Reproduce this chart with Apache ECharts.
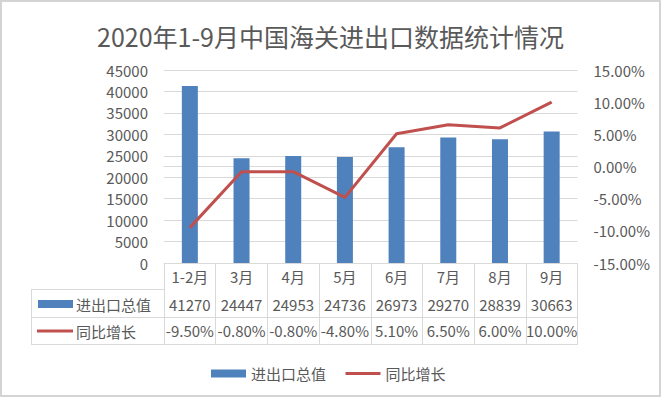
<!DOCTYPE html>
<html>
<head>
<meta charset="utf-8">
<script src="https://cdn.jsdelivr.net/npm/echarts@6/dist/echarts.min.js"></script>
<style>
    html, body { margin: 0; padding: 0; background: #fff; }
    #chart { width: 661px; height: 397px; }
</style>
</head>
<body>
<div id="chart"></div>
<script>
    // data
    var months = ['1-2月', '3月', '4月', '5月', '6月', '7月', '8月', '9月']
    var totals = [41270, 24447, 24953, 24736, 26973, 29270, 28839, 30663]
    var growth = [-9.5, -0.8, -0.8, -4.8, 5.1, 6.5, 6.0, 10.0]

    var barName = '进出口总值'
    var lineName = '同比增长'
    var barColor = '#4f81bd'
    var lineColor = '#c0504d'
    var textColor = '#595959'
    var borderColor = '#d9d9d9'
    var font = '"Noto Sans CJK SC", "Noto Sans", sans-serif'

    // plot box
    var plotLeft = 164
    var plotRight = 577.5
    var plotTop = 70
    var plotBottom = 263
    var rowLines = [289, 317, 344]
    var tableLeft = 31

    var pctText = growth.map(function (v) { return v.toFixed(2) + '%' })
    var totalText = totals.map(function (v) { return String(v) })

    function tableAxis (data, offset, margin) {
        return {
            type: 'category',
            gridIndex: 0,
            position: 'bottom',
            offset: offset,
            data: data,
            boundaryGap: true,
            axisLine: {show: true, lineStyle: {color: borderColor, width: 1}},
            axisTick: {show: false},
            axisLabel: {
                show: data.length > 0,
                interval: 0,
                margin: margin,
                color: textColor,
                fontSize: 15,
                fontFamily: font
            },
            splitLine: {show: false}
        }
    }

    var chart = echarts.init(document.getElementById('chart'), null, {renderer: 'svg'})

    var headerGraphics = [
        {
            type: 'rect',
            shape: {x: 1, y: 1, width: 659, height: 395},
            style: {fill: 'none', stroke: '#d4d4d4', lineWidth: 2},
            silent: true
        }
    ]
    rowLines.forEach(function (y) {
        headerGraphics.push({
            type: 'line',
            shape: {x1: tableLeft, y1: y + 0.5, x2: plotLeft, y2: y + 0.5},
            style: {stroke: borderColor, lineWidth: 1}
        })
    })
    headerGraphics.push({
        type: 'line',
        shape: {x1: tableLeft + 0.5, y1: rowLines[0], x2: tableLeft + 0.5, y2: rowLines[2]},
        style: {stroke: borderColor, lineWidth: 1}
    })
    headerGraphics.push({
        type: 'rect',
        shape: {x: 38, y: 300, width: 35, height: 8},
        style: {fill: barColor}
    })
    headerGraphics.push({
        type: 'text',
        style: {x: 76, y: 304, text: barName, fill: textColor, font: '15px ' + font, verticalAlign: 'middle'}
    })
    headerGraphics.push({
        type: 'line',
        shape: {x1: 37, y1: 331, x2: 73, y2: 331},
        style: {stroke: lineColor, lineWidth: 3}
    })
    headerGraphics.push({
        type: 'text',
        style: {x: 76, y: 331, text: lineName, fill: textColor, font: '15px ' + font, verticalAlign: 'middle'}
    })

    chart.setOption({
        animation: false,
        backgroundColor: '#fff',
        title: {
            text: '2020年1-9月中国海关进出口数据统计情况',
            left: 'center',
            top: 18,
            textStyle: {color: textColor, fontSize: 25, fontWeight: 'normal', fontFamily: font}
        },
        legend: {
            left: 206,
            top: 361,
            itemWidth: 35,
            itemHeight: 8,
            itemGap: 18,
            textStyle: {color: textColor, fontSize: 15, fontFamily: font},
            data: [
                {name: barName, icon: 'rect'},
                {name: lineName, itemStyle: {opacity: 0}, lineStyle: {width: 3, color: lineColor}}
            ]
        },
        grid: {
            left: plotLeft,
            right: 661 - plotRight,
            top: plotTop,
            bottom: 397 - plotBottom,
            containLabel: false
        },
        xAxis: [
            {
                type: 'category',
                data: months,
                boundaryGap: true,
                axisLine: {show: true, lineStyle: {color: borderColor, width: 1}},
                axisTick: {
                    show: true,
                    alignWithLabel: false,
                    interval: 0,
                    length: rowLines[2] - plotBottom,
                    lineStyle: {color: borderColor, width: 1}
                },
                axisLabel: {
                    interval: 0,
                    margin: 6,
                    color: textColor,
                    fontSize: 15,
                    fontFamily: font
                }
            },
            tableAxis(totalText, rowLines[0] - plotBottom, 8),
            tableAxis(pctText, rowLines[1] - plotBottom, 6),
            tableAxis([], rowLines[2] - plotBottom, 0)
        ],
        yAxis: [
            {
                type: 'value',
                min: 0,
                max: 45000,
                interval: 5000,
                axisLine: {show: false},
                axisTick: {show: false},
                axisLabel: {
                    margin: 16,
                    color: textColor,
                    fontSize: 15,
                    fontFamily: font,
                    formatter: function (v) { return String(v) }
                },
                splitLine: {lineStyle: {color: borderColor, width: 1}}
            },
            {
                type: 'value',
                min: -15,
                max: 15,
                interval: 5,
                axisLine: {show: false},
                axisTick: {show: false},
                axisLabel: {
                    margin: 16,
                    color: textColor,
                    fontSize: 15,
                    fontFamily: font,
                    formatter: function (v) { return v.toFixed(2) + '%' }
                },
                splitLine: {show: false}
            }
        ],
        series: [
            {
                name: barName,
                type: 'bar',
                xAxisIndex: 0,
                yAxisIndex: 0,
                barWidth: 16,
                itemStyle: {color: barColor},
                data: totals
            },
            {
                name: lineName,
                type: 'line',
                xAxisIndex: 0,
                yAxisIndex: 1,
                symbol: 'none',
                lineStyle: {color: lineColor, width: 3, join: 'round'},
                itemStyle: {color: lineColor},
                data: growth
            }
        ],
        graphic: headerGraphics
    })
</script>
</body>
</html>
